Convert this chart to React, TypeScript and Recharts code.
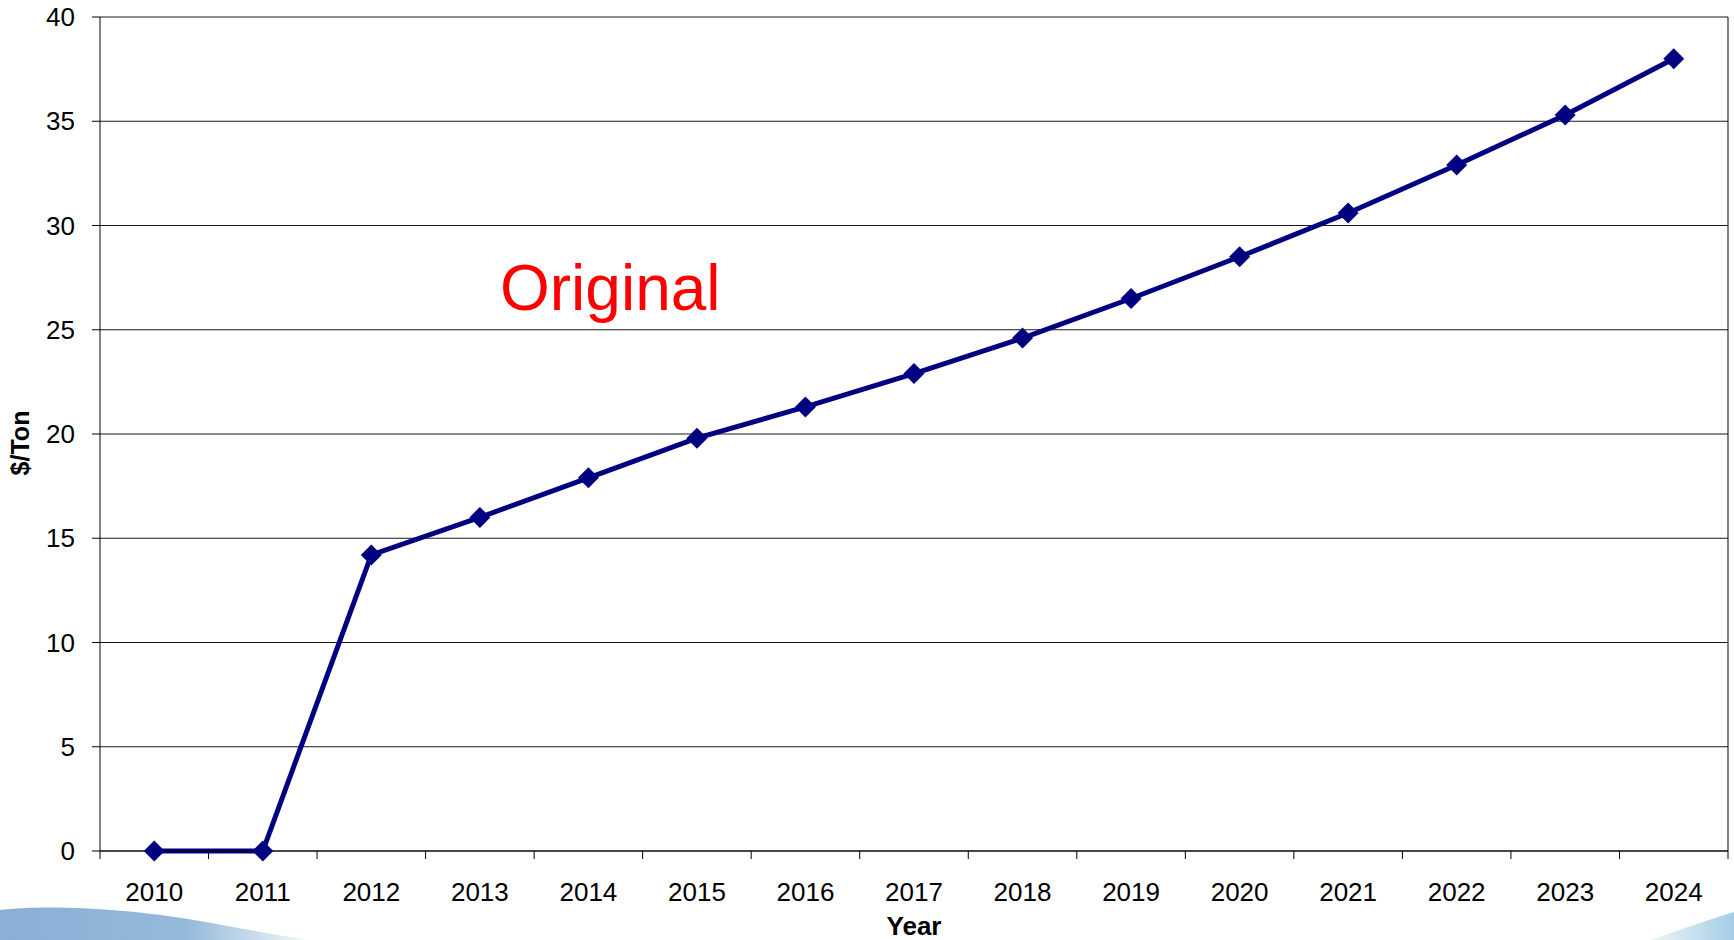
import {
  LineChart,
  Line,
  XAxis,
  YAxis,
  CartesianGrid,
  ReferenceLine,
} from 'recharts'

const years = [2010, 2011, 2012, 2013, 2014, 2015, 2016, 2017, 2018, 2019, 2020, 2021, 2022, 2023, 2024]
const pricePerTon = [0, 0, 14.2, 16.0, 17.9, 19.8, 21.3, 22.9, 24.6, 26.5, 28.5, 30.6, 32.9, 35.3, 38.0]
const yTicks = [0, 5, 10, 15, 20, 25, 30, 35, 40]
// tick marks sit between the years
const yearEdges = [...years.map((y) => y - 0.5), years[years.length - 1] + 0.5]

const FONT = '"Liberation Sans", Arial, sans-serif'
const NAVY = '#000080'

const data = years.map((year, i) => ({ year, price: pricePerTon[i] }))

// eslint-disable-next-line @typescript-eslint/no-explicit-any
function renderDiamond(props: any) {
  const { cx, cy, index } = props
  if (cx == null || cy == null) return <g key={`d-${index}`} />
  const r = 10.5
  return (
    <polygon
      key={`d-${index}`}
      points={`${cx},${cy - r} ${cx + r},${cy} ${cx},${cy + r} ${cx - r},${cy}`}
      fill={NAVY}
    />
  )
}

// boundary axis: tick marks only, no text
function noLabel() {
  return <g />
}

function Swoosh() {
  return (
    <svg width={1734} height={940} style={{ position: 'absolute', left: 0, top: 0 }}>
      <defs>
        <linearGradient id="swL" x1="0" y1="0" x2="1" y2="0">
          <stop offset="0%" stopColor="#89afd5" />
          <stop offset="60%" stopColor="#95b9db" />
          <stop offset="85%" stopColor="#cfe0ee" />
          <stop offset="100%" stopColor="#f6faf4" />
        </linearGradient>
        <linearGradient id="swR" x1="0" y1="0" x2="1" y2="0">
          <stop offset="0%" stopColor="#eef6f6" />
          <stop offset="100%" stopColor="#a4cde6" />
        </linearGradient>
      </defs>
      <path d="M0,940 L0,910 C40,905 120,907 200,921 C240,928 275,935 310,940 Z" fill="url(#swL)" />
      <path d="M1650,940 C1680,930 1710,919 1734,912 L1734,940 Z" fill="url(#swR)" />
    </svg>
  )
}

export default function App() {
  return (
    <div
      style={{
        position: 'absolute',
        left: 0,
        top: 0,
        width: 1734,
        height: 940,
        background: '#fff',
        fontFamily: FONT,
        overflow: 'hidden',
      }}
    >
      <Swoosh />
      <div style={{ position: 'absolute', left: 0, top: 0 }}>
        <LineChart
          width={1734}
          height={940}
          data={data}
          margin={{ top: 17, right: 6, left: 0, bottom: 0 }}
        >
          <CartesianGrid xAxisId="years" horizontal vertical={false} stroke="#1a1a1a" strokeWidth={1} />
          <XAxis
            xAxisId="bounds"
            type="number"
            dataKey="year"
            domain={[yearEdges[0], yearEdges[yearEdges.length - 1]]}
            ticks={yearEdges}
            interval={0}
            height={1}
            tick={noLabel}
            tickSize={8}
            tickLine={{ stroke: '#000' }}
            axisLine={{ stroke: '#000' }}
          />
          <XAxis
            xAxisId="years"
            type="number"
            dataKey="year"
            domain={[yearEdges[0], yearEdges[yearEdges.length - 1]]}
            ticks={years}
            interval={0}
            height={88}
            tickLine={false}
            axisLine={false}
            tickSize={8}
            tickMargin={23}
            tick={{ fontSize: 26, fill: '#000', fontFamily: FONT }}
            label={{
              content: () => (
                <text
                  x={914}
                  y={935}
                  textAnchor="middle"
                  fontSize={26}
                  fontWeight="bold"
                  fontFamily={FONT}
                  fill="#000"
                >
                  Year
                </text>
              ),
            }}
          />
          <YAxis
            type="number"
            domain={[0, 40]}
            ticks={yTicks}
            interval={0}
            width={100}
            tickSize={8}
            tickMargin={17}
            tickLine={{ stroke: '#000' }}
            axisLine={{ stroke: '#000' }}
            tick={{ fontSize: 26, fill: '#000', fontFamily: FONT }}
            label={{
              content: () => (
                <text
                  x={29}
                  y={443}
                  transform="rotate(-90 29 443)"
                  textAnchor="middle"
                  fontSize={25}
                  fontWeight="bold"
                  fontFamily={FONT}
                  fill="#000"
                >
                  $/Ton
                </text>
              ),
            }}
          />
          <ReferenceLine xAxisId="years" x={yearEdges[yearEdges.length - 1]} stroke="#000" />
          <Line
            xAxisId="years"
            type="linear"
            dataKey="price"
            stroke={NAVY}
            strokeWidth={5}
            dot={renderDiamond}
            activeDot={false}
            isAnimationActive={false}
          />
        </LineChart>
      </div>
      <div
        style={{
          position: 'absolute',
          left: 500,
          top: 256,
          fontSize: 64,
          lineHeight: 1,
          color: '#ff0000',
          fontFamily: FONT,
        }}
      >
        Original
      </div>
    </div>
  )
}
